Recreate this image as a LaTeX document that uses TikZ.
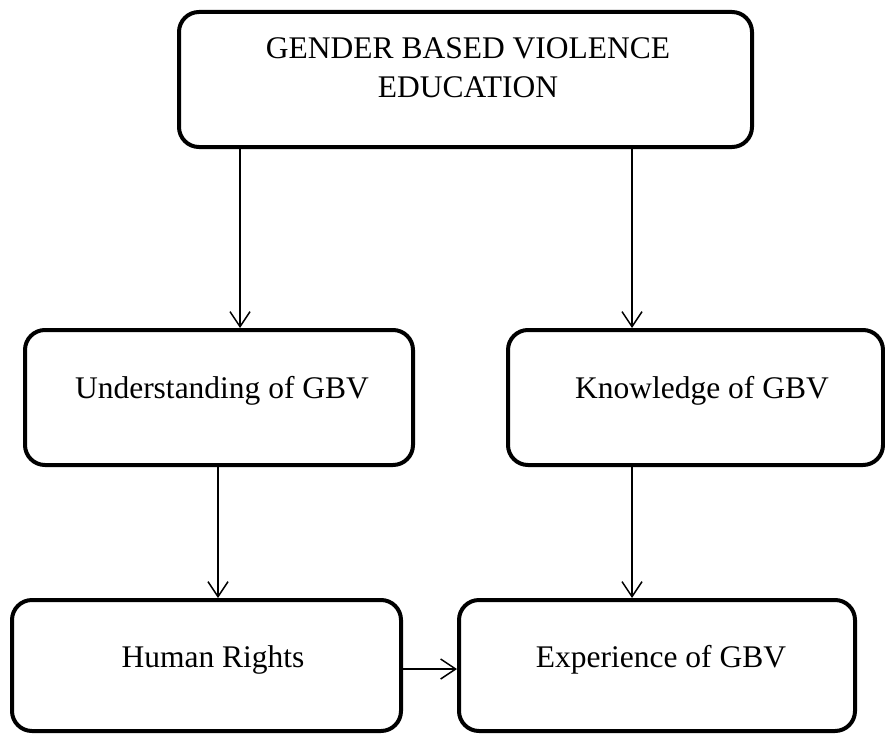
\documentclass[tikz,border=0pt]{standalone}
\usepackage{fontspec}
\setmainfont{Liberation Serif}
\usetikzlibrary{arrows.meta}
\begin{document}
\begin{tikzpicture}[x=1pt,y=-1pt,
  box/.style={draw=black,line width=4pt,rounded corners=20pt,rectangle,outer sep=2pt,inner sep=0pt},
  lbl/.style={font=\fontsize{31.5}{39}\selectfont,inner sep=0pt,align=center,text=black},
  arr/.style={draw=black,line width=1.5pt,-{Straight Barb[length=15pt,width=20pt,line width=1.5pt]}}]
\useasboundingbox (0,0) rectangle (885,733);
\fill[white] (0,0) rectangle (885,733);
% boxes
\node[box,minimum width=573pt,minimum height=135pt] (top) at (465.5,79.5) {};
\node[box,minimum width=388pt,minimum height=135pt] (lm) at (219,397.5) {};
\node[box,minimum width=375pt,minimum height=135pt] (rm) at (695.5,397.5) {};
\node[box,minimum width=389pt,minimum height=131pt] (lb) at (206.5,665.5) {};
\node[box,minimum width=396pt,minimum height=131pt] (rb) at (657,665.5) {};
% texts
\node[lbl,anchor=center] (toptxt) at (468,68) {GENDER BASED VIOLENCE\\EDUCATION};
\node[lbl,anchor=base] (lmtxt) at (222,398) {Understanding of GBV};
\node[lbl,anchor=base] (rmtxt) at (702,398) {Knowledge of GBV};
\node[lbl,anchor=base] (lbtxt) at (213,667) {Human Rights};
\node[lbl,anchor=base] (rbtxt) at (661,667) {Experience of GBV};
% connectors
\draw[arr] ([xshift=21pt]lm.north |- top.south) -- ([xshift=21pt]lm.north);
\draw[arr] ([xshift=-63.5pt]rm.north |- top.south) -- ([xshift=-63.5pt]rm.north);
\draw[arr] ([xshift=-1pt]lm.south) -- ([xshift=-1pt]lm.south |- lb.north);
\draw[arr] ([xshift=-63.5pt]rm.south) -- ([xshift=-63.5pt]rm.south |- rb.north);
\draw[arr] ([yshift=-3.5pt]lb.east) -- ([yshift=-3.5pt]lb.east -| rb.west);
\end{tikzpicture}
\end{document}
